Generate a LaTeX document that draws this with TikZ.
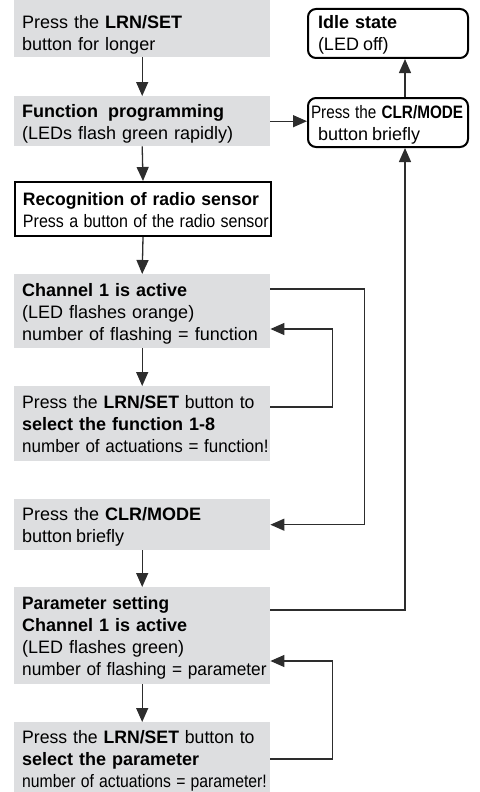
\documentclass[tikz,border=0pt]{standalone}
\usepackage{fontspec}
\setmainfont{Liberation Sans}
\usetikzlibrary{arrows.meta,calc}
\definecolor{boxgray}{RGB}{221,222,224}
\definecolor{linegray}{RGB}{45,45,45}
\newcommand{\tstr}{\rule[-7pt]{0pt}{28pt}}
\newcommand{\bstr}{\rule[-7pt]{0pt}{7pt}}
\newcommand{\sx}[2]{\scalebox{#1}[1]{#2}}
\begin{document}
\begin{tikzpicture}[x=1pt,y=-1pt,
  every node/.style={font=\fontsize{18}{22}\selectfont},
  gbox/.style={fill=boxgray, draw=none, anchor=north west, text width=240pt,
    inner xsep=8pt, inner ysep=0pt, align=left, minimum width=256pt},
  wbox/.style={gbox, fill=white, draw=black, line width=2pt},
  rbox/.style={draw=black, line width=2pt, rounded corners=8pt, anchor=north west,
    text width=140pt, inner xsep=10pt, inner ysep=0pt, align=left,
    minimum width=160pt, minimum height=49pt},
  arr/.style={draw=linegray, line width=1.3pt, line join=miter,
    -{Triangle[length=14pt,width=12pt]}}
]
\useasboundingbox (0,0) rectangle (479,792);

\node[gbox, minimum height=57pt] (b1) at (14,0)
  {\rule[-7pt]{0pt}{35pt}Press the \textbf{LRN/SET}\\button for longer\bstr};
\node[gbox, minimum height=50pt] (b2) at (14,96)
  {\tstr\textbf{Function\hspace{10pt}programming}\\(LEDs flash green rapidly)\bstr};
\node[wbox, minimum height=54pt] (b3) at (14,181)
  {\tstr\sx{0.975}{\textbf{Recognition of radio sensor}}\\\sx{0.89}{Press a button of the radio sensor}\bstr};
\node[gbox, minimum height=74pt] (b4) at (14,274)
  {\tstr\textbf{Channel 1 is active}\\(LED flashes orange)\\number of flashing = function\bstr};
\node[gbox, minimum height=75pt] (b5) at (14,386)
  {\tstr\sx{0.98}{Press the \textbf{LRN/SET} button to}\\\textbf{select the function 1-8}\\\sx{0.945}{number of actuations = function!}\bstr};
\node[gbox, minimum height=51pt] (b6) at (14,499)
  {\tstr Press the \textbf{CLR/MODE}\\button\hspace{4pt}briefly\bstr};
\node[gbox, minimum height=97pt] (b7) at (14,587)
  {\tstr\sx{0.96}{\textbf{Parameter setting}}\\\textbf{Channel 1 is active}\\(LED flashes green)\\\sx{0.96}{number of flashing = parameter}\bstr};
\node[gbox, minimum height=72pt] (b8) at (14,722)
  {\tstr\sx{0.98}{Press the \textbf{LRN/SET} button to}\\\textbf{select the parameter}\\\sx{0.875}{number of actuations = parameter!}\bstr};

\node[rbox] (r1) at (307,8)
  {\rule[-7pt]{0pt}{27pt}\textbf{Idle state}\\(LED\hspace{4pt}off)\bstr};
\node[rbox] (r2) at (307,97)
  {\rule[-7pt]{0pt}{27pt}\hspace*{-7pt}\sx{0.85}{Press the \textbf{CLR/MODE}}\\button\hspace{4pt}briefly\bstr};

\coordinate (vx) at (405,0);

\draw[arr] (b1.south) -- (b2.north);
\draw[arr] (b2.south) -- (b3.north);
\draw[arr] (b3.south) -- (b4.north);
\draw[arr] (b4.south) -- (b5.north);
\draw[arr] (b6.south) -- (b7.north);
\draw[arr] (b7.south) -- (b8.north);

\draw[arr] (b2.east) -- (b2.east -| r2.west);
\draw[arr] (r2.north -| vx) -- (r1.south -| vx);
\draw[arr] ($(b7.north east)+(0,23)$) -| (r2.south -| vx);

\draw[arr] ($(b4.north east)+(0,15)$) -| ($(b6.east)+(94,0)$) -- (b6.east);
\draw[arr] ($(b5.north east)+(0,21)$) -| ($(b4.north east)+(62,55)$) -- ($(b4.north east)+(0,55)$);
\draw[arr] ($(b8.north east)+(0,37)$) -| ($(b7.north east)+(62,74)$) -- ($(b7.north east)+(0,74)$);
\end{tikzpicture}
\end{document}
